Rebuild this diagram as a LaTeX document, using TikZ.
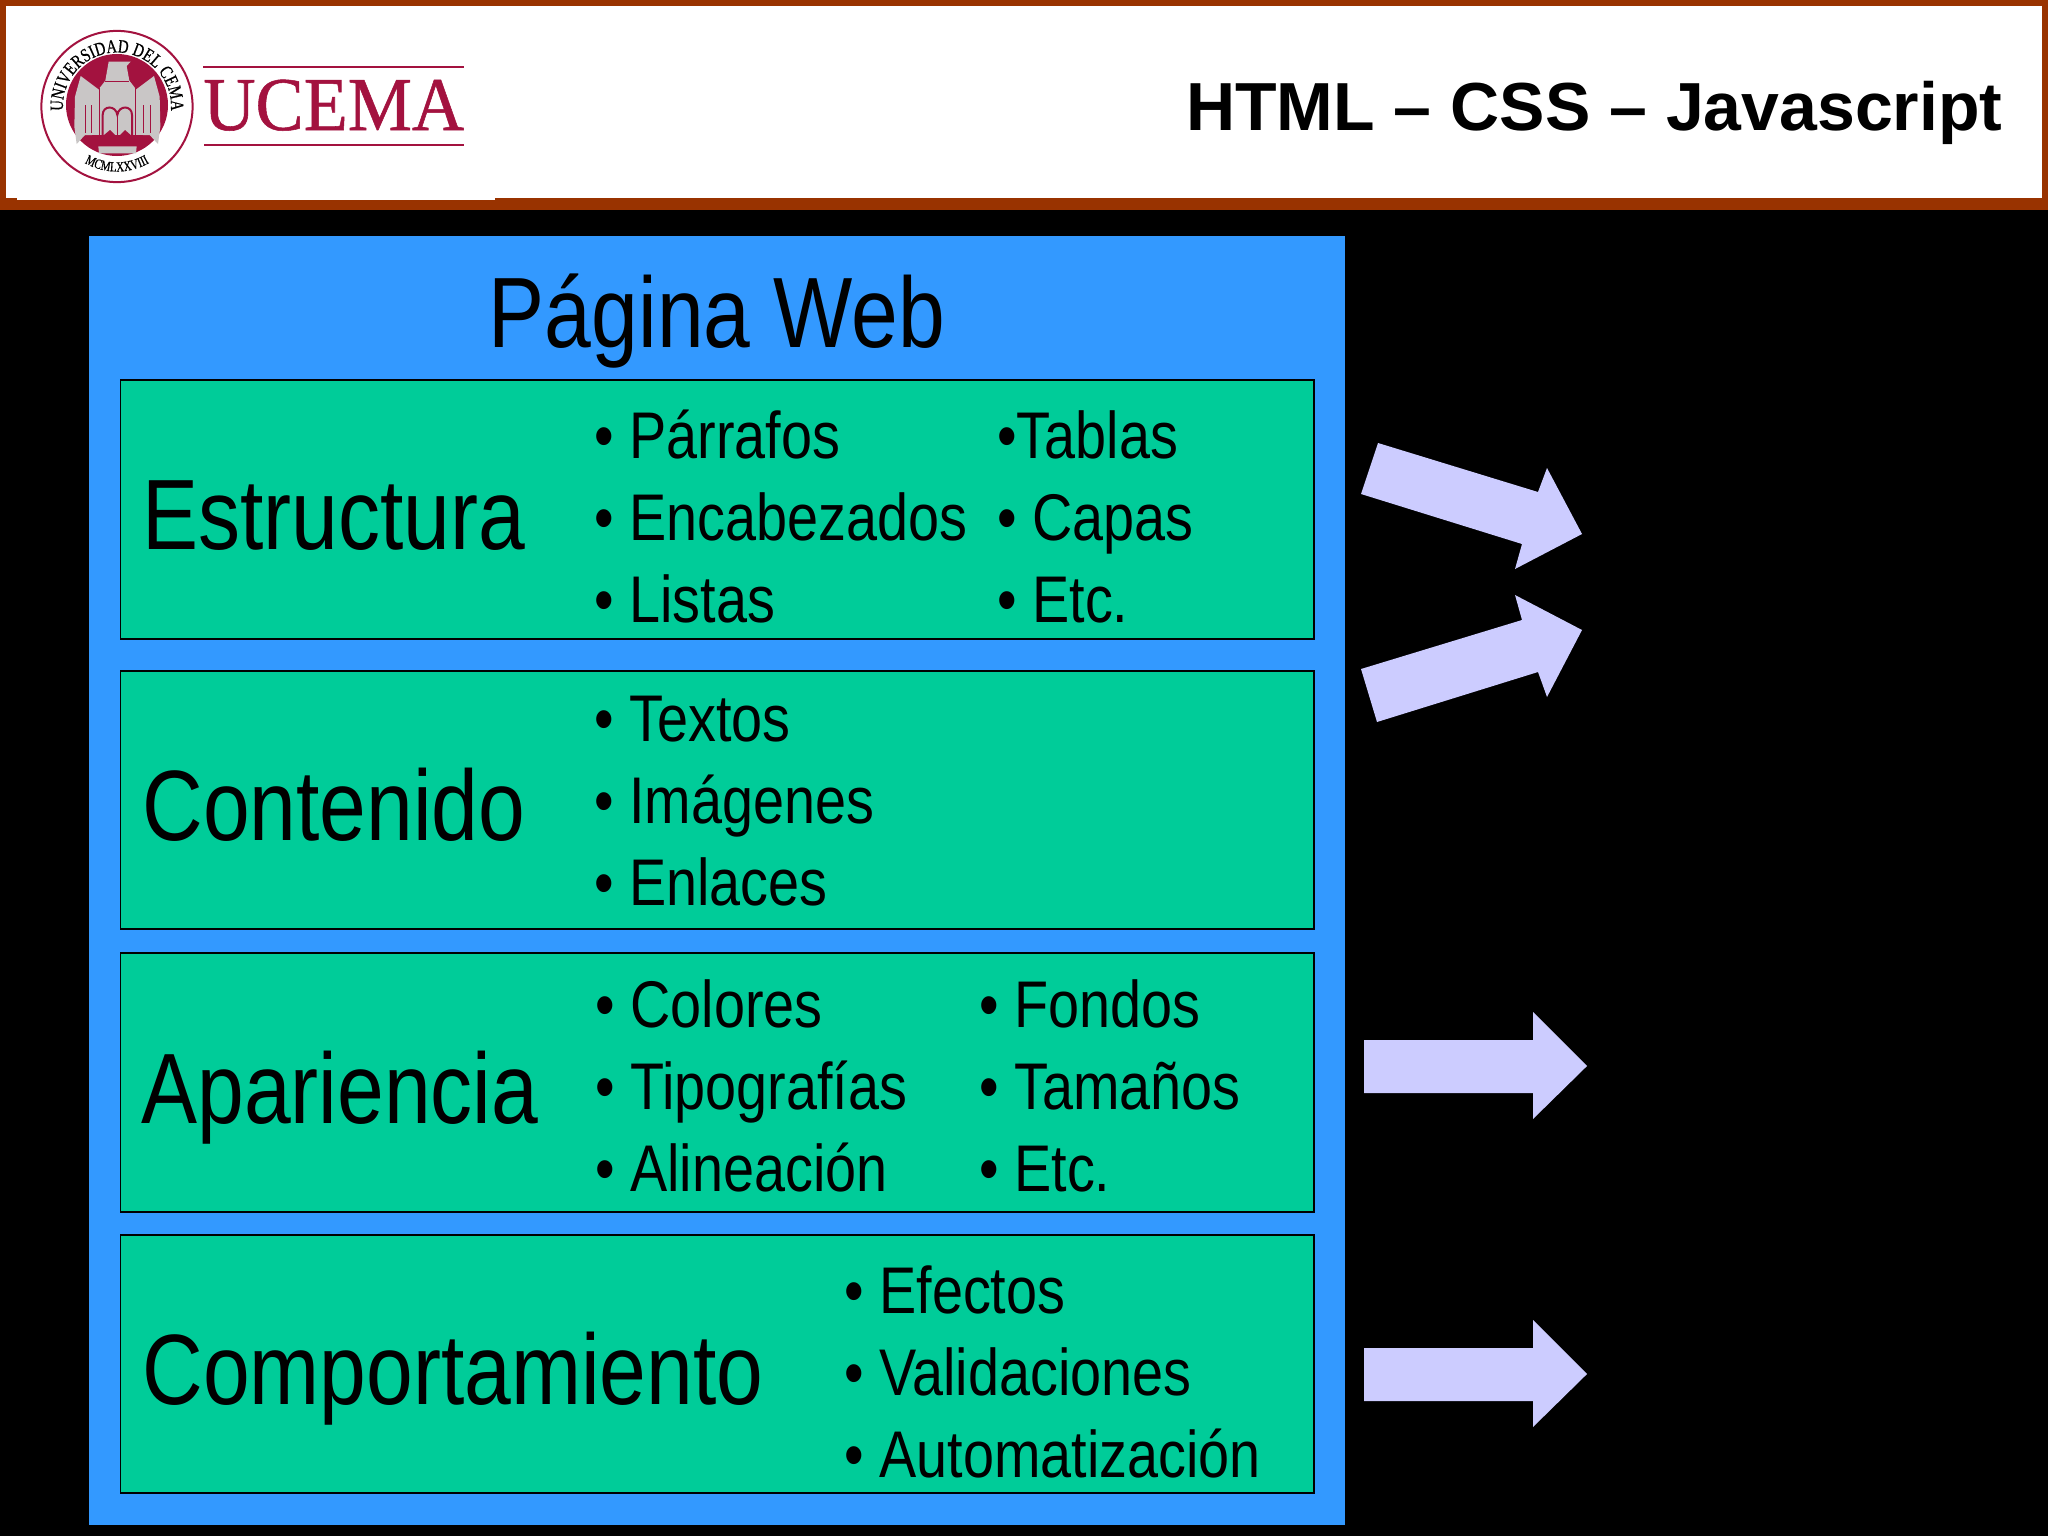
\documentclass[tikz,border=0pt]{standalone}
\usepackage{fontspec}
\setmainfont{Liberation Sans}
\newfontfamily\narrowfont[FakeStretch=0.84]{Liberation Sans}
\newfontfamily\itemfont[FakeStretch=0.845]{Liberation Sans}
\newfontfamily\logofont[FakeBold=0.7,FakeStretch=0.95]{Liberation Serif}
\newfontfamily\sealfont[FakeBold=0.6,FakeStretch=0.78]{Liberation Serif}
\usetikzlibrary{decorations.text}
\definecolor{pagebg}{HTML}{000000}
\definecolor{headerbar}{HTML}{993300}
\definecolor{pageblue}{HTML}{3399FF}
\definecolor{boxgreen}{HTML}{00CC99}
\definecolor{arrowlilac}{HTML}{CCCCFF}
\definecolor{ucemared}{HTML}{A3123F}
\definecolor{crestgrey}{HTML}{C9C6C6}
\newcommand{\bul}[1]{\makebox[17.5pt][l]{•}#1}
\tikzset{
  greenbox/.style={draw=black,line width=0.6pt,fill=boxgreen},
  bigtext/.style={anchor=base west,inner sep=0pt,font=\narrowfont\fontsize{50}{50}\selectfont},
  itemtext/.style={anchor=base west,inner sep=0pt,font=\itemfont\fontsize{33}{33}\selectfont},
  lilac/.style={fill=arrowlilac,draw=none},
  crestred/.style={fill=ucemared,draw=none},
  crestlight/.style={fill=crestgrey,draw=none},
}
\begin{document}
\begin{tikzpicture}[x=0.5pt,y=0.5pt]
\useasboundingbox (0,0) rectangle (2048,-1536);
\fill[pagebg] (0,0) rectangle (2048,-1536);
% header
\fill[headerbar] (0,0) rectangle (2048,-210);
\fill[white] (6,-6) rectangle (2042,-198);
\fill[white] (17,-198) rectangle (495,-200);
\node[anchor=base east,inner sep=0pt,font=\bfseries\fontsize{34}{34}\selectfont] (title) at (2003,-131) {HTML – CSS – Javascript};
% logo
\draw[ucemared,line width=1pt,fill=white] (117,-106.5) circle[radius=37.8pt];
\fill[crestred] (117,-105) circle[radius=25.5pt];
\begin{scope}[shift={(15pt,-10pt)},x=0.16667pt,y=-0.16667pt]
  % wings
  \path[crestlight] (152,168) -- (135,230) -- (133,320) -- (140,372) -- (165,345) -- (208,345) -- (208,210) -- cycle;
  \path[crestlight] (372,168) -- (389,230) -- (391,320) -- (384,372) -- (359,345) -- (316,345) -- (316,210) -- cycle;
  % head and body
  \path[crestlight] (208,205) -- (226,182) -- (236,125) -- (302,125) -- (290,138) -- (298,182) -- (316,205) -- (316,345) -- (208,345) -- cycle;
  % feathers and arches
  \foreach \cx in {165,185,340,360} \draw[ucemared,line width=0.5pt] (\cx,255) -- (\cx,340);
  \draw[ucemared,line width=0.8pt] (208,205) -- (208,345);
  \draw[ucemared,line width=0.8pt] (316,205) -- (316,345);
  \draw[ucemared,line width=0.8pt] (226,184) -- (298,184);
  \draw[ucemared,line width=1pt] (218,345) -- (218,285) .. controls (218,255) and (258,255) .. (262,285) .. controls (266,255) and (306,255) .. (306,285) -- (306,345);
  \draw[ucemared,line width=0.8pt] (262,285) -- (262,345);
  % base
  \path[crestred] (185,345) -- (339,345) -- (314,376) -- (210,376) -- cycle;
  \path[crestred] (222,345) -- (240,330) -- (255,345) -- cycle;
  \path[crestred] (270,345) -- (285,330) -- (302,345) -- cycle;
  \path[crestlight] (205,379) -- (320,379) -- (318,400) -- (207,400) -- cycle;
\end{scope}
\path[decorate,decoration={text along path,text align=center,text={|\sealfont\fontsize{9.4}{10}\selectfont|UNIVERSIDAD DEL CEMA}}]
  (117,-106.5) ++(196:54) arc[start angle=196,end angle=-16,radius=27pt];
\path[decorate,decoration={text along path,text align=center,text={|\sealfont\fontsize{7}{8}\selectfont|MCMLXXVIII}}]
  (117,-106.5) ++(232:65) arc[start angle=232,end angle=308,radius=32.5pt];
\draw[ucemared,line width=0.8pt] (203,-67) -- (464,-67);
\draw[ucemared,line width=0.9pt] (204,-145) -- (464,-145);
\node[anchor=base west,inner sep=0pt,text=ucemared,font=\logofont\fontsize{38}{38}\selectfont] (ucema) at (203,-130) {UCEMA};
% blue page
\node[fill=pageblue,draw=none,inner sep=0pt,anchor=north west,minimum width=628pt,minimum height=644.5pt] (page) at (89,-236) {};
\node[bigtext,anchor=base] (pagetitle) at (717,-347) {Página Web};
% green boxes
\draw[greenbox] (120.5,-380) rectangle (1314,-639);
\draw[greenbox] (120.5,-671) rectangle (1314,-929);
\draw[greenbox] (120.5,-953) rectangle (1314,-1212);
\draw[greenbox] (120.5,-1235) rectangle (1314,-1493);
% row 1
\node[bigtext] (estructura) at (142,-549) {Estructura};
\node[itemtext] (i11) at (594,-458) {\bul{Párrafos}};
\node[itemtext] (i12) at (594,-540) {\bul{Encabezados}};
\node[itemtext] (i13) at (594,-622) {\bul{Listas}};
\node[itemtext] (i14) at (997,-458) {•Tablas};
\node[itemtext] (i15) at (997,-540) {\bul{Capas}};
\node[itemtext] (i16) at (997,-622) {\bul{Etc.}};
% row 2
\node[bigtext] (contenido) at (142,-840) {Contenido};
\node[itemtext] (i21) at (594,-741) {\bul{Textos}};
\node[itemtext] (i22) at (594,-823) {\bul{Imágenes}};
\node[itemtext] (i23) at (594,-905) {\bul{Enlaces}};
% row 3
\node[bigtext] (apariencia) at (141,-1123) {Apariencia};
\node[itemtext] (i31) at (595,-1027) {\bul{Colores}};
\node[itemtext] (i32) at (595,-1109) {\bul{Tipografías}};
\node[itemtext] (i33) at (595,-1191) {\bul{Alineación}};
\node[itemtext] (i34) at (979,-1027) {\bul{Fondos}};
\node[itemtext] (i35) at (979,-1109) {\bul{Tamaños}};
\node[itemtext] (i36) at (979,-1191) {\bul{Etc.}};
% row 4
\node[bigtext] (comportamiento) at (142,-1404) {Comportamiento};
\node[itemtext] (i41) at (844,-1313) {\bul{Efectos}};
\node[itemtext] (i42) at (844,-1395) {\bul{Validaciones}};
\node[itemtext] (i43) at (844,-1477) {\bul{Automatización}};
% arrows
\path[lilac] (1378,-443) -- (1538,-492) -- (1547,-468) -- (1582,-534) -- (1515,-569) -- (1522,-544) -- (1361,-494) -- cycle;
\path[lilac] (1361,-669) -- (1522,-620) -- (1515,-595) -- (1582,-630) -- (1547,-697) -- (1538,-672) -- (1377,-722) -- cycle;
\path[lilac] (1364,-1040) -- (1533,-1040) -- (1533,-1012) -- (1587,-1066) -- (1533,-1119) -- (1533,-1093) -- (1364,-1093) -- cycle;
\path[lilac] (1364,-1348) -- (1533,-1348) -- (1533,-1320) -- (1587,-1374) -- (1533,-1427) -- (1533,-1401) -- (1364,-1401) -- cycle;
\end{tikzpicture}
\end{document}
